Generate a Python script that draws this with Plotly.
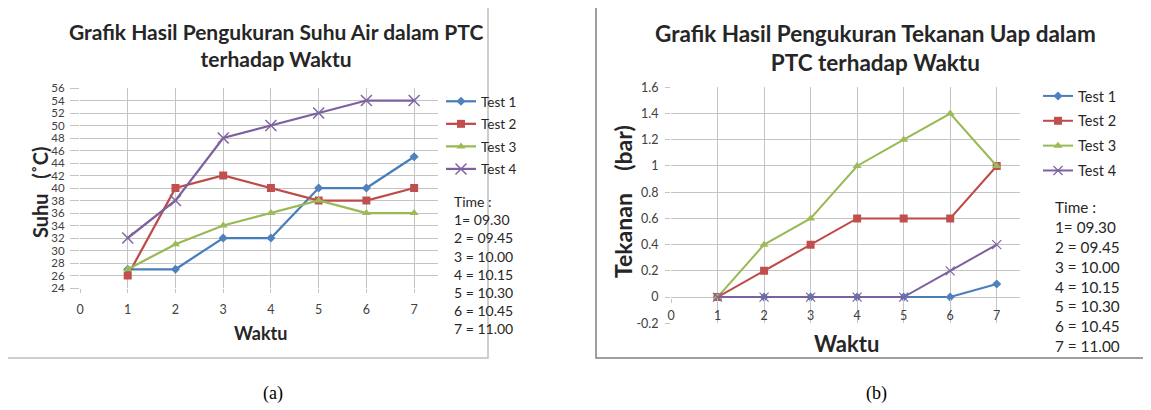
import plotly.graph_objects as go

W, H = 1151, 410

# ---------------- data ----------------
waktu = [1, 2, 3, 4, 5, 6, 7]
time_labels = ["09.30", "09.45", "10.00", "10.15", "10.30", "10.45", "11.00"]
series_names = ["Test 1", "Test 2", "Test 3", "Test 4"]

suhu_test1 = [27, 27, 32, 32, 40, 40, 45]
suhu_test2 = [26, 40, 42, 40, 38, 38, 40]
suhu_test3 = [27, 31, 34, 36, 38, 36, 36]
suhu_test4 = [32, 38, 48, 50, 52, 54, 54]

tekanan_test1 = [0, 0, 0, 0, 0, 0, 0.1]
tekanan_test2 = [0, 0.2, 0.4, 0.6, 0.6, 0.6, 1.0]
tekanan_test3 = [0, 0.4, 0.6, 1.0, 1.2, 1.4, 1.0]
tekanan_test4 = [0, 0, 0, 0, 0, 0.2, 0.4]

x_ticks = [0, 1, 2, 3, 4, 5, 6, 7]
suhu_ticks = list(range(24, 57, 2))
tekanan_ticks = [-0.2, 0, 0.2, 0.4, 0.6, 0.8, 1, 1.2, 1.4, 1.6]
tekanan_ticktext = ["-0.2", "0", "0.2", "0.4", "0.6", "0.8", "1", "1.2", "1.4", "1.6"]

# ---------------- style ----------------
FONT = "Lato"
line_colors = ["#4A7EBB", "#BE4B48", "#98B954", "#7D60A0"]
marker_colors = ["#4F81BD", "#C0504D", "#9BBB59", "#8064A2"]
symbols = ["diamond", "square", "triangle-up", "x-thin-open"]
GRID = "#C4C4C4"
TICKC = "#404040"
TXT = "#262626"
NB = "\u00a0"

# the page body adds an 8px offset; positions below are in screenshot pixels
OFF = 8


def px_x(p):
    return (p - OFF) / W


def px_y(p):
    return 1 - (p - OFF) / H


fig = go.Figure()

left_sets = [suhu_test1, suhu_test2, suhu_test3, suhu_test4]
right_sets = [tekanan_test1, tekanan_test2, tekanan_test3, tekanan_test4]
left_msize = [7, 8, 8, 11]
right_msize = [7, 8, 8, 9]

for i, (name, ys) in enumerate(zip(series_names, left_sets)):
    mk = dict(symbol=symbols[i], size=left_msize[i], color=marker_colors[i])
    if symbols[i].startswith("x-thin"):
        mk["line"] = dict(color=marker_colors[i], width=1.5)
    fig.add_trace(go.Scatter(x=waktu, y=ys, name=name, mode="lines+markers",
                             line=dict(color=line_colors[i], width=2.25),
                             marker=mk, xaxis="x", yaxis="y",
                             legend="legend", legendgroup="L" + str(i)))

for i, (name, ys) in enumerate(zip(series_names, right_sets)):
    mk = dict(symbol=symbols[i], size=right_msize[i], color=marker_colors[i])
    if symbols[i].startswith("x-thin"):
        mk["line"] = dict(color=marker_colors[i], width=1.2)
    fig.add_trace(go.Scatter(x=waktu, y=ys, name=name, mode="lines+markers",
                             line=dict(color=line_colors[i], width=2),
                             marker=mk, xaxis="x2", yaxis="y2",
                             legend="legend2", legendgroup="R" + str(i)))


def axis_common(size, ticklen):
    return dict(showgrid=True, gridcolor=GRID, gridwidth=1, zeroline=False,
                showline=False, ticks="outside", ticklen=ticklen, tickcolor=GRID,
                tickfont=dict(family=FONT, size=size, color=TICKC))


fig.update_layout(
    width=W, height=H,
    margin=dict(l=0, r=0, t=0, b=0, pad=0, autoexpand=False),
    paper_bgcolor="white", plot_bgcolor="white",
    font=dict(family=FONT, color="#000000"),
    xaxis=dict(domain=[px_x(80), px_x(438)], range=[0, 7.5], anchor="y",
               tickvals=x_ticks, ticklabelstandoff=6, **axis_common(12.5, 4)),
    yaxis=dict(domain=[px_y(288), px_y(88)], range=[24, 56], anchor="x",
               tickvals=suhu_ticks, ticklabelstandoff=3, **axis_common(11.5, 9)),
    xaxis2=dict(domain=[px_x(671), px_x(1020)], range=[0, 7.5], anchor="free",
                position=px_y(297.7),
                tickvals=x_ticks, ticklabelstandoff=2, **axis_common(12.5, 4)),
    yaxis2=dict(domain=[px_y(323.3), px_y(87.3)], range=[-0.2, 1.6], anchor="x2",
                tickvals=tekanan_ticks, ticktext=tekanan_ticktext,
                ticklabelstandoff=4, **axis_common(12.5, 5)),
    legend=dict(x=px_x(441), y=px_y(86), xanchor="left", yanchor="top",
                bgcolor="rgba(0,0,0,0)", font=dict(family=FONT, size=13.5, color=TXT),
                tracegroupgap=2, itemwidth=30),
    legend2=dict(x=px_x(1038), y=px_y(80), xanchor="left", yanchor="top",
                 bgcolor="rgba(0,0,0,0)", font=dict(family=FONT, size=14.5, color=TXT),
                 tracegroupgap=3, itemwidth=30),
    showlegend=True,
)

time_text = "Time :<br>" + "<br>".join(
    ("%d= %s" if i == 0 else "%d = %s") % (w, t) for i, (w, t) in enumerate(zip(waktu, time_labels)))

ann = [
    # titles
    dict(text="<b>Grafik Hasil Pengukuran Suhu Air dalam PTC<br>terhadap Waktu</b>",
         x=px_x(276), y=px_y(45), font=dict(size=21, family=FONT, color=TXT)),
    dict(text="<b>Grafik Hasil Pengukuran Tekanan Uap dalam<br>PTC terhadap Waktu</b>",
         x=px_x(875), y=px_y(48), font=dict(size=22.5, family=FONT, color=TXT)),
    # axis titles
    dict(text="<b>Suhu" + NB * 3 + "(˚C)</b>", x=px_x(40), y=px_y(192), textangle=-90,
         font=dict(size=20, family=FONT, color=TXT)),
    dict(text="<b>Waktu</b>", x=px_x(260), y=px_y(333),
         font=dict(size=18, family=FONT, color=TXT)),
    dict(text="<b>Tekanan" + NB * 4 + "(bar)</b>", x=px_x(623), y=px_y(202), textangle=-90,
         font=dict(size=23, family=FONT, color=TXT)),
    dict(text="<b>Waktu</b>", x=px_x(846), y=px_y(343),
         font=dict(size=22, family=FONT, color=TXT)),
    # time keys
    dict(text=time_text, x=px_x(452), y=px_y(191), xanchor="left", yanchor="top", align="left",
         font=dict(size=14, family=FONT, color=TXT)),
    dict(text=time_text, x=px_x(1053), y=px_y(196), xanchor="left", yanchor="top", align="left",
         font=dict(size=15.3, family=FONT, color=TXT)),
    # captions
    dict(text="(a)", x=px_x(273), y=px_y(393), font=dict(size=18, family="Liberation Serif", color="#000")),
    dict(text="(b)", x=px_x(876), y=px_y(393), font=dict(size=18, family="Liberation Serif", color="#000")),
]
for a in ann:
    a.setdefault("xanchor", "center")
    a.setdefault("yanchor", "middle")
    a.update(xref="paper", yref="paper", showarrow=False)
fig.update_layout(annotations=ann)

fig.update_layout(shapes=[
    dict(type="rect", xref="paper", yref="paper", x0=px_x(6), x1=px_x(488), y0=px_y(358), y1=px_y(7),
         line=dict(color="#BFBFBF", width=1.5)),
    dict(type="rect", xref="paper", yref="paper", x0=px_x(596), x1=px_x(1152), y0=px_y(358), y1=px_y(7),
         line=dict(color="#808080", width=1.5)),
])

fig.write_html("out.html")
